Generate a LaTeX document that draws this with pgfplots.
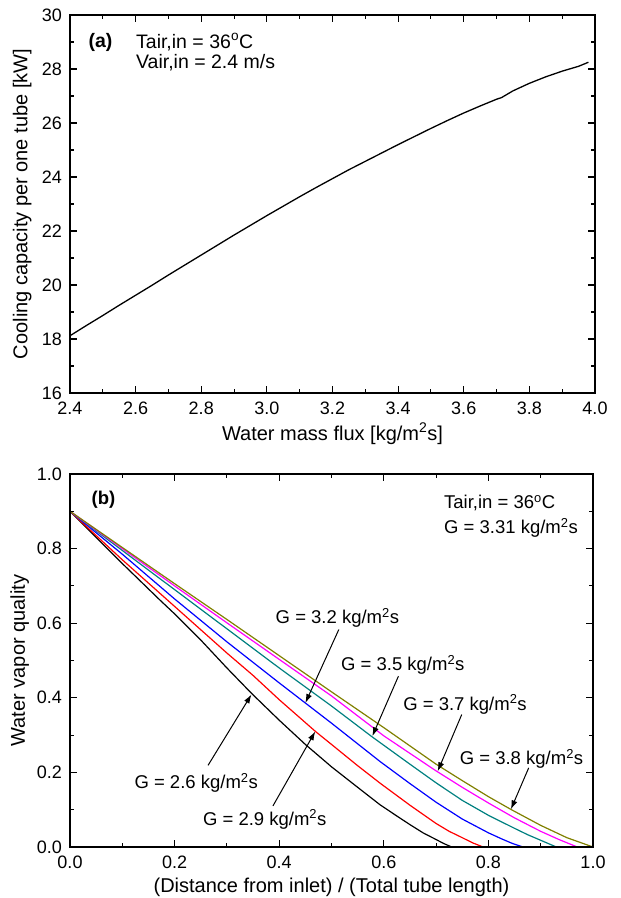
\documentclass[border=0pt]{standalone}
\usepackage{pgfplots}
\pgfplotsset{compat=1.18}
\usepackage{fontspec}
\setmainfont{Liberation Sans}
\usetikzlibrary{arrows.meta}
\definecolor{cteal}{RGB}{0,128,128}
\definecolor{colive}{RGB}{128,128,0}
\definecolor{cmag}{RGB}{255,0,255}
\newcommand{\annfont}{\fontsize{18.5}{20}\selectfont}
\newcommand{\annfontA}{\fontsize{19.5}{20}\selectfont}
\pgfplotsset{
  myaxis/.style={
    scale only axis,
    axis line style={line width=1.2pt},
    every tick/.style={line width=1.1pt, black},
    major tick length=7pt,
    minor tick length=4pt,
    minor tick num=1,
    tick align=inside,
    /pgf/number format/assume math mode=true,
    /pgf/number format/.cd, fixed, fixed zerofill, precision=1, /pgfplots/.cd,
    tick label style={font=\fontsize{18}{18}\selectfont, inner sep=1pt},
    xticklabel style={yshift=-8pt},
    yticklabel style={xshift=-7pt},
    label style={font=\fontsize{20}{20}\selectfont},
    clip=false,
  }
}
\begin{document}
\begin{tikzpicture}
\useasboundingbox (0,0) rectangle (621pt,898pt);
% ---------------- (a)
\begin{axis}[myaxis,
  at={(70pt,505pt)}, anchor=south west,
  width=525pt, height=378pt,
  xmin=2.4, xmax=4.0, ymin=16, ymax=30,
  xtick={2.4,2.6,...,4.01}, ytick={16,18,...,30},
  yticklabel style={/pgf/number format/precision=0, /pgf/number format/fixed zerofill=false},
  xlabel={Water mass flux [kg/m\textsuperscript{2}s]},
  ylabel={Cooling capacity per one tube [kW]},
  xlabel style={at={(axis description cs:0.5,-0.108)}, anchor=center},
  ylabel style={at={(axis description cs:-0.091,0.5)}, anchor=center},
]
\addplot[black, line width=1.3pt] coordinates {
(2.40,18.12) (2.45,18.50) (2.50,18.87) (2.55,19.25) (2.60,19.62) (2.65,19.99)
(2.70,20.37) (2.75,20.74) (2.80,21.11) (2.85,21.48) (2.90,21.85) (2.95,22.21)
(3.00,22.57) (3.05,22.92) (3.10,23.27) (3.15,23.61) (3.20,23.94) (3.25,24.27)
(3.30,24.58) (3.35,24.89) (3.40,25.20) (3.45,25.50) (3.50,25.80) (3.55,26.09)
(3.60,26.37) (3.65,26.63) (3.70,26.88) (3.715,26.94) (3.75,27.19) (3.80,27.47)
(3.85,27.71) (3.90,27.92) (3.95,28.10) (3.98,28.25)
};
\node[font=\bfseries\annfontA] at (axis cs:2.493,28.97) {(a)};
\node[anchor=west, font=\annfontA, inner sep=0pt] at (axis cs:2.601,29.0) {Tair,in = 36\textsuperscript{o}C};
\node[anchor=west, font=\annfontA, inner sep=0pt] at (axis cs:2.601,28.25) {Vair,in = 2.4 m/s};
\end{axis}
% ---------------- (b)
\begin{axis}[myaxis,
  at={(70pt,51pt)}, anchor=south west,
  width=523pt, height=373pt,
  xmin=0, xmax=1, ymin=0, ymax=1,
  xtick={0,0.2,...,1.01}, ytick={0,0.2,...,1.01},
  xlabel={(Distance from inlet) / (Total tube length)},
  ylabel={Water vapor quality},
  xlabel style={at={(axis description cs:0.5,-0.109)}, anchor=center},
  ylabel style={at={(axis description cs:-0.096,0.5)}, anchor=center},
  axis on top,
]
\addplot[black, line width=1.2pt] coordinates {
(0,0.9) (0.1,0.76) (0.172,0.662) (0.2,0.625) (0.25,0.555) (0.3,0.48) (0.347,0.412)
(0.4,0.34) (0.45,0.275) (0.5,0.215) (0.55,0.16) (0.593,0.113) (0.625,0.083) (0.65,0.06)
(0.675,0.038) (0.7,0.02) (0.715,0.009) (0.73,0)
};
\addplot[red, line width=1.2pt] coordinates {
(0,0.9) (0.1,0.77) (0.2,0.645) (0.3,0.52) (0.35,0.46) (0.4,0.395) (0.47,0.309)
(0.5,0.275) (0.55,0.218) (0.593,0.171) (0.65,0.112) (0.7,0.063) (0.725,0.042)
(0.75,0.025) (0.77,0.011) (0.79,0)
};
\addplot[blue, line width=1.2pt] coordinates {
(0,0.9) (0.1,0.785) (0.2,0.665) (0.3,0.55) (0.4,0.44) (0.45,0.386) (0.5,0.332)
(0.593,0.229) (0.65,0.17) (0.7,0.12) (0.75,0.075) (0.8,0.038) (0.825,0.022)
(0.845,0.01) (0.866,0)
};
\addplot[cteal, line width=1.2pt] coordinates {
(0,0.9) (0.1,0.795) (0.2,0.69) (0.3,0.585) (0.4,0.48) (0.5,0.378) (0.577,0.296)
(0.65,0.222) (0.7,0.172) (0.75,0.125) (0.8,0.085) (0.85,0.05) (0.875,0.033)
(0.9,0.018) (0.93,0)
};
\addplot[cmag, line width=1.2pt] coordinates {
(0,0.9) (0.1,0.8) (0.2,0.7) (0.3,0.601) (0.4,0.503) (0.5,0.405) (0.6,0.298)
(0.7,0.204) (0.75,0.16) (0.8,0.118) (0.85,0.078) (0.9,0.042) (0.935,0.02)
(0.97,0)
};
\addplot[colive, line width=1.2pt] coordinates {
(0,0.9) (0.1,0.803) (0.2,0.706) (0.3,0.61) (0.4,0.513) (0.5,0.416) (0.6,0.32)
(0.7,0.222) (0.75,0.178) (0.8,0.135) (0.844,0.1) (0.9,0.058) (0.95,0.025)
(1.0,0)
};
\node[font=\bfseries\annfont] at (axis cs:0.064,0.93) {(b)};
\node[anchor=west, font=\annfont, inner sep=0pt] at (axis cs:0.715,0.921) {Tair,in = 36\textsuperscript{o}C};
\node[anchor=west, font=\annfont, inner sep=0pt] at (axis cs:0.715,0.855) {G = 3.31 kg/m\textsuperscript{2}s};
\node[anchor=west, font=\annfont, inner sep=0pt] at (axis cs:0.393,0.614) {G = 3.2 kg/m\textsuperscript{2}s};
\node[anchor=west, font=\annfont, inner sep=0pt] at (axis cs:0.518,0.489) {G = 3.5 kg/m\textsuperscript{2}s};
\node[anchor=west, font=\annfont, inner sep=0pt] at (axis cs:0.637,0.382) {G = 3.7 kg/m\textsuperscript{2}s};
\node[anchor=west, font=\annfont, inner sep=0pt] at (axis cs:0.745,0.236) {G = 3.8 kg/m\textsuperscript{2}s};
\node[anchor=west, font=\annfont, inner sep=0pt] at (axis cs:0.123,0.172) {G = 2.6 kg/m\textsuperscript{2}s};
\node[anchor=west, font=\annfont, inner sep=0pt] at (axis cs:0.254,0.074) {G = 2.9 kg/m\textsuperscript{2}s};
\begin{scope}[line width=1pt, -{Latex[length=9pt,width=6pt]}]
\draw (axis cs:0.514,0.583) -- (axis cs:0.45,0.386);
\draw (axis cs:0.628,0.458) -- (axis cs:0.578,0.297);
\draw (axis cs:0.749,0.355) -- (axis cs:0.703,0.203);
\draw (axis cs:0.877,0.212) -- (axis cs:0.843,0.101);
\draw (axis cs:0.264,0.219) -- (axis cs:0.347,0.409);
\draw (axis cs:0.388,0.110) -- (axis cs:0.469,0.310);
\end{scope}
\end{axis}
\end{tikzpicture}
\end{document}
